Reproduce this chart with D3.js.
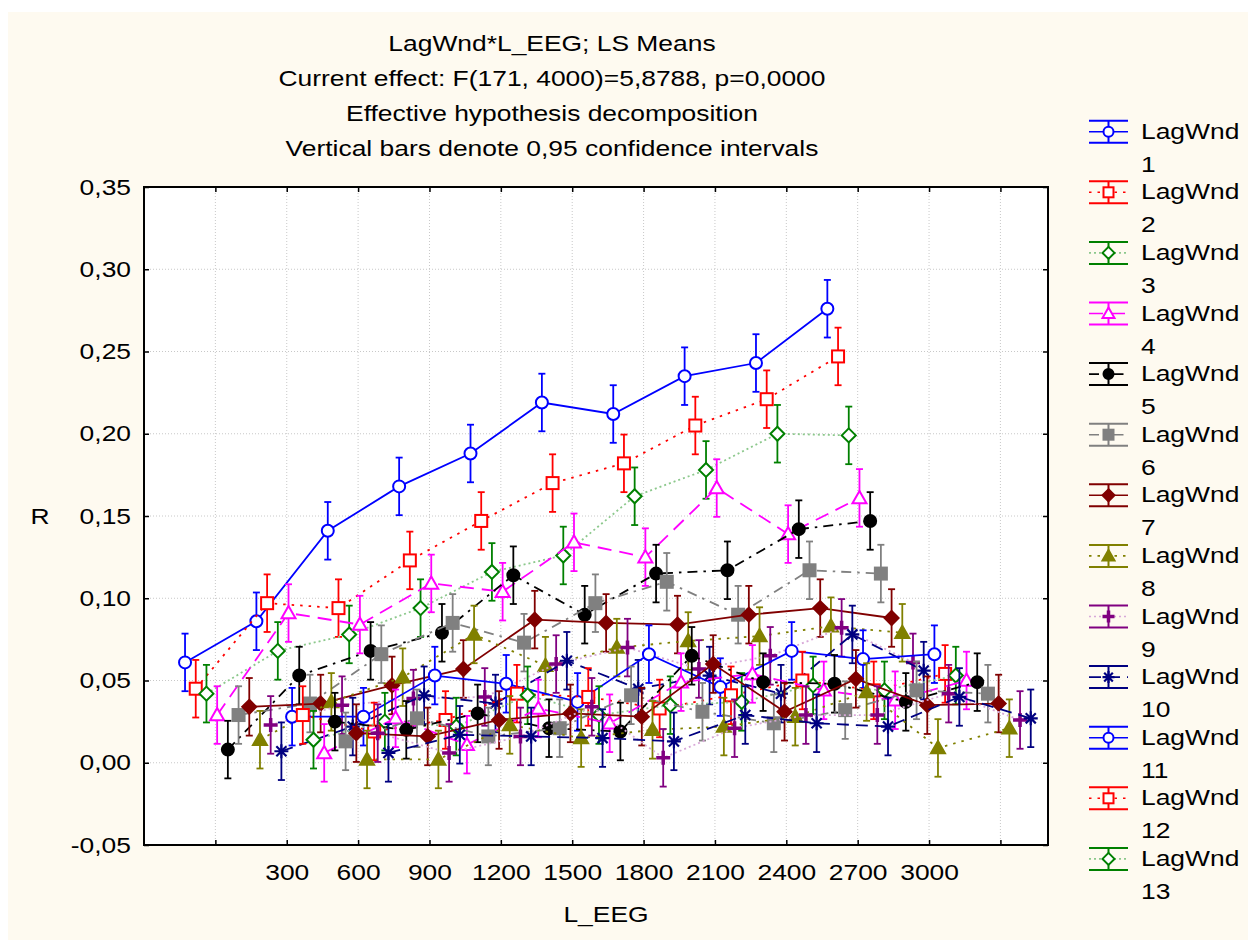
<!DOCTYPE html>
<html>
<head>
<meta charset="utf-8">
<script src="https://cdn.jsdelivr.net/npm/d3@7"></script>
<style>
    body{margin:0;background:#fff;}
    text{font-family:"Liberation Sans",Arial,sans-serif;fill:#000;}
</style>
</head>
<body>
<div id="container"></div>
<script>
//L_EEG levels (categories on the x axis)
var lEEG = [300, 600, 900, 1200, 1500, 1800, 2100, 2400, 2700, 3000];
var xTicks = [0, 300, 600, 900, 1200, 1500, 1800, 2100, 2400, 2700, 3000, 3300];
var xTickLabels = ["", "300", "600", "900", "1200", "1500", "1800", "2100", "2400", "2700", "3000", ""];
var yTicks = [-0.05, 0, 0.05, 0.10, 0.15, 0.20, 0.25, 0.30, 0.35];
var yTickLabels = ["-0,05", "0,00", "0,05", "0,10", "0,15", "0,20", "0,25", "0,30", "0,35"];

var seriesNames = ["LagWnd 1", "LagWnd 2", "LagWnd 3", "LagWnd 4", "LagWnd 5", "LagWnd 6", "LagWnd 7",
    "LagWnd 8", "LagWnd 9", "LagWnd 10", "LagWnd 11", "LagWnd 12", "LagWnd 13", "LagWnd 14",
    "LagWnd 15", "LagWnd 16", "LagWnd 17", "LagWnd 18", "LagWnd 19", "LagWnd 20"];

//LS means of R, one array per LagWnd
var r1  = [0.061, 0.086, 0.141, 0.168, 0.188, 0.219, 0.212, 0.235, 0.243, 0.276];
var r2  = [0.045, 0.097, 0.094, 0.123, 0.147, 0.170, 0.182, 0.205, 0.221, 0.247];
var r3  = [0.042, 0.068, 0.078, 0.094, 0.116, 0.126, 0.162, 0.178, 0.200, 0.199];
var r4  = [0.029, 0.091, 0.084, 0.109, 0.104, 0.134, 0.125, 0.167, 0.139, 0.161];
var r5  = [0.008, 0.053, 0.068, 0.079, 0.114, 0.090, 0.115, 0.117, 0.142, 0.147];
var r6  = [0.029, 0.036, 0.066, 0.085, 0.073, 0.097, 0.110, 0.090, 0.117, 0.115];
var r7  = [0.034, 0.036, 0.047, 0.057, 0.087, 0.085, 0.084, 0.090, 0.094, 0.088];
var r8  = [0.014, 0.037, 0.052, 0.078, 0.059, 0.070, 0.074, 0.077, 0.083, 0.079];
var r9  = [0.023, 0.035, 0.039, 0.040, 0.060, 0.070, 0.057, 0.065, 0.082, 0.061];
var r10 = [0.007, 0.022, 0.041, 0.036, 0.062, 0.045, 0.053, 0.042, 0.078, 0.056];
var r11 = [0.028, 0.028, 0.053, 0.048, 0.037, 0.066, 0.046, 0.068, 0.063, 0.066];
var r12 = [0.029, 0.019, 0.026, 0.042, 0.040, 0.033, 0.041, 0.050, 0.044, 0.054];
var r13 = [0.014, 0.025, 0.022, 0.041, 0.029, 0.035, 0.037, 0.047, 0.044, 0.053];
var r14 = [0.006, 0.027, 0.011, 0.033, 0.024, 0.049, 0.054, 0.044, 0.038, 0.050];
var r15 = [0.025, 0.020, 0.030, 0.021, 0.019, 0.065, 0.049, 0.048, 0.037, 0.049];
var r16 = [0.013, 0.027, 0.016, 0.021, 0.041, 0.031, 0.024, 0.032, 0.044, 0.042];
var r17 = [0.018, 0.016, 0.026, 0.030, 0.028, 0.060, 0.031, 0.051, 0.035, 0.036];
var r18 = [0.002, 0.002, 0.023, 0.015, 0.020, 0.022, 0.028, 0.043, 0.009, 0.021];
var r19 = [0.018, 0.006, 0.016, 0.034, 0.003, 0.021, 0.029, 0.029, 0.042, 0.026];
var r20 = [0.006, 0.017, 0.016, 0.015, 0.013, 0.029, 0.024, 0.022, 0.040, 0.027];
var seriesValues = [r1, r2, r3, r4, r5, r6, r7, r8, r9, r10, r11, r12, r13, r14, r15, r16, r17, r18, r19, r20];
//half width of the 0,95 confidence interval
var ciHalf = 0.0175;

var titleLines = ["LagWnd*L_EEG; LS Means",
    "Current effect: F(171, 4000)=5,8788, p=0,0000",
    "Effective hypothesis decomposition",
    "Vertical bars denote 0,95 confidence intervals"];

(function(){
    window.onload = drawChart();

    function drawChart(){
        var width = 1248, height = 940;
        //horizontal stretch of the lettering
        var sx = 1.2, fs = 22;
        //styles repeat every 10 series
        var styles = [
            {color:"#0000ff", line:"#0000ff", dash:null, marker:"circle", fill:false},
            {color:"#ff0000", line:"#ff0000", dash:"2.5,6", marker:"square", fill:false},
            {color:"#008000", line:"#8cc88c", dash:"2,3", marker:"diamond", fill:false},
            {color:"#ff00ff", line:"#ff00ff", dash:"14,8", marker:"triangle", fill:false},
            {color:"#000000", line:"#000000", dash:"10,6,2.5,6", marker:"circle", fill:true},
            {color:"#808080", line:"#808080", dash:"10,6,2.5,6", marker:"square", fill:true},
            {color:"#800000", line:"#800000", dash:null, marker:"diamond", fill:true},
            {color:"#808000", line:"#808000", dash:"2.5,6", marker:"triangle", fill:true},
            {color:"#800080", line:"#d8a8d8", dash:"2,3", marker:"plus", fill:true},
            {color:"#000080", line:"#000080", dash:"12,7", marker:"asterisk", fill:true}
        ];

        var svg = d3.select("#container")
            .append("svg")
            .attr("width", width)
            .attr("height", height);

        svg.append("rect").attr("width", width).attr("height", height).attr("fill", "#ffffff");
        svg.append("rect").attr("x", 8).attr("y", 12)
            .attr("width", width - 8).attr("height", height - 12)
            .attr("fill", "#fefaf0");

        var x = d3.scaleLinear().domain([-300, 3500]).range([144, 1048]);
        var y = d3.scaleLinear().domain([-0.05, 0.35]).range([845, 187]);
        var jitter = 45; //L_EEG units between neighbouring LagWnd series

        function stretch(sel){
            sel.each(function(){
                var w = this.getComputedTextLength();
                d3.select(this).attr("textLength", w * sx).attr("lengthAdjust", "spacingAndGlyphs");
            });
        }

        //plot area
        svg.append("rect")
            .attr("x", x.range()[0]).attr("y", y.range()[1])
            .attr("width", x.range()[1] - x.range()[0])
            .attr("height", y.range()[0] - y.range()[1])
            .attr("fill", "#ffffff");

        //dotted grid
        var grid = svg.append("g").attr("stroke", "#c8c8c8").attr("stroke-dasharray", "1,2");
        grid.selectAll(".vg").data(xTicks).enter().append("line")
            .attr("x1", d => x(d)).attr("x2", d => x(d))
            .attr("y1", y.range()[1]).attr("y2", y.range()[0]);
        grid.selectAll(".hg").data(yTicks.slice(1, -1)).enter().append("line")
            .attr("x1", x.range()[0]).attr("x2", x.range()[1])
            .attr("y1", d => y(d)).attr("y2", d => y(d));

        //axes
        var xAxis = svg.append("g")
            .attr("transform", "translate(0," + y.range()[0] + ")")
            .call(d3.axisBottom(x).tickValues(xTicks).tickSize(-5).tickPadding(19)
                .tickFormat((d, i) => xTickLabels[i]));
        var xTop = svg.append("g")
            .attr("transform", "translate(0," + y.range()[1] + ")")
            .call(d3.axisTop(x).tickValues(xTicks).tickSize(-5).tickFormat(""));
        var yAxis = svg.append("g")
            .attr("transform", "translate(" + x.range()[0] + ",0)")
            .call(d3.axisLeft(y).tickValues(yTicks).tickSize(-5).tickPadding(13)
                .tickFormat((d, i) => yTickLabels[i]));
        var yRight = svg.append("g")
            .attr("transform", "translate(" + x.range()[1] + ",0)")
            .call(d3.axisRight(y).tickValues(yTicks).tickSize(-5).tickFormat(""));
        [xAxis, xTop, yAxis, yRight].forEach(function(a){
            a.select(".domain").remove();
            a.selectAll("line").attr("stroke", "#000").attr("stroke-width", 1.5);
            a.selectAll("text").attr("font-size", fs).attr("font-family", "Liberation Sans, Arial, sans-serif");
        });
        stretch(xAxis.selectAll("text"));
        stretch(yAxis.selectAll("text"));

        //markers
        function drawMarker(g, type, cx, cy, st, s){
            var fill = st.fill ? st.color : "#ffffff";
            if (type == "circle"){
                g.append("circle").attr("cx", cx).attr("cy", cy).attr("r", s)
                    .attr("fill", fill).attr("stroke", st.color).attr("stroke-width", 2);
            } else if (type == "square"){
                g.append("rect").attr("x", cx - s).attr("y", cy - s)
                    .attr("width", 2 * s).attr("height", 2 * s)
                    .attr("fill", fill).attr("stroke", st.color).attr("stroke-width", 2);
            } else if (type == "diamond"){
                var d = s + 1;
                g.append("path")
                    .attr("d", "M" + cx + "," + (cy - d) + "L" + (cx + d) + "," + cy + "L" + cx + "," + (cy + d) + "L" + (cx - d) + "," + cy + "Z")
                    .attr("fill", fill).attr("stroke", st.color).attr("stroke-width", 2);
            } else if (type == "triangle"){
                var h = s + 1;
                g.append("path")
                    .attr("d", "M" + cx + "," + (cy - h) + "L" + (cx + h) + "," + (cy + h * 0.75) + "L" + (cx - h) + "," + (cy + h * 0.75) + "Z")
                    .attr("fill", fill).attr("stroke", st.color).attr("stroke-width", 2);
            } else if (type == "plus"){
                var p = s + 1;
                g.append("path")
                    .attr("d", "M" + (cx - p) + "," + cy + "H" + (cx + p) + "M" + cx + "," + (cy - p) + "V" + (cy + p))
                    .attr("stroke", st.color).attr("stroke-width", 3.5).attr("fill", "none");
            } else if (type == "asterisk"){
                var a = s + 1, q = a * 0.72;
                g.append("path")
                    .attr("d", "M" + (cx - a) + "," + cy + "H" + (cx + a) + "M" + cx + "," + (cy - a) + "V" + (cy + a) +
                        "M" + (cx - q) + "," + (cy - q) + "L" + (cx + q) + "," + (cy + q) +
                        "M" + (cx - q) + "," + (cy + q) + "L" + (cx + q) + "," + (cy - q))
                    .attr("stroke", st.color).attr("stroke-width", 2.2).attr("fill", "none");
            }
        }

        //series: line, confidence bars, markers
        var plot = svg.append("g");
        var line = d3.line().x(d => d.px).y(d => d.py);
        seriesValues.forEach(function(vals, k){
            var st = styles[k % styles.length];
            var pts = vals.map(function(v, i){
                return {
                    px: x(lEEG[i] + (k - (seriesValues.length - 1) / 2) * jitter),
                    py: y(v), hi: y(v + ciHalf), lo: y(v - ciHalf)
                };
            });
            var g = plot.append("g").attr("class", "series");
            g.append("path").datum(pts).attr("d", line)
                .attr("fill", "none").attr("stroke", st.line).attr("stroke-width", 1.8)
                .attr("stroke-dasharray", st.dash);
            var bars = g.append("g").attr("stroke", st.color).attr("stroke-width", 1.8);
            pts.forEach(function(p){
                bars.append("line").attr("x1", p.px).attr("x2", p.px).attr("y1", p.hi).attr("y2", p.lo);
                bars.append("line").attr("x1", p.px - 3.5).attr("x2", p.px + 3.5).attr("y1", p.hi).attr("y2", p.hi);
                bars.append("line").attr("x1", p.px - 3.5).attr("x2", p.px + 3.5).attr("y1", p.lo).attr("y2", p.lo);
            });
            pts.forEach(function(p){ drawMarker(g, st.marker, p.px, p.py, st, 6); });
        });

        //frame
        svg.append("rect")
            .attr("x", x.range()[0]).attr("y", y.range()[1])
            .attr("width", x.range()[1] - x.range()[0])
            .attr("height", y.range()[0] - y.range()[1])
            .attr("fill", "none").attr("stroke", "#000").attr("stroke-width", 2);

        //titles
        svg.selectAll(".title").data(titleLines).enter().append("text")
            .attr("class", "title")
            .attr("x", 552).attr("y", (d, i) => 51 + i * 35)
            .attr("text-anchor", "middle").attr("font-size", fs)
            .text(d => d)
            .call(stretch);

        svg.append("text").attr("x", 606).attr("y", 922)
            .attr("text-anchor", "middle").attr("font-size", fs)
            .text("L_EEG").call(stretch);
        svg.append("text").attr("x", 40).attr("y", 524)
            .attr("text-anchor", "middle").attr("font-size", fs)
            .text("R").call(stretch);

        //legend (only the first 13 entries fit)
        var legend = svg.append("g");
        seriesNames.slice(0, 13).forEach(function(name, k){
            var st = styles[k % styles.length];
            var c = 131.7 + k * 60.6, x0 = 1089, x1 = 1128, xm = (x0 + x1) / 2;
            var lg = legend.append("g");
            lg.append("line").attr("x1", x0).attr("x2", x1).attr("y1", c).attr("y2", c)
                .attr("stroke", st.line).attr("stroke-width", 1.6).attr("stroke-dasharray", st.dash);
            var b = lg.append("g").attr("stroke", st.color).attr("stroke-width", 2);
            b.append("line").attr("x1", x0).attr("x2", x1).attr("y1", c - 11).attr("y2", c - 11);
            b.append("line").attr("x1", x0).attr("x2", x1).attr("y1", c + 11).attr("y2", c + 11);
            b.append("line").attr("x1", xm).attr("x2", xm).attr("y1", c - 11).attr("y2", c + 11);
            drawMarker(lg, st.marker, xm, c, st, 5);
            var parts = name.split(" ");
            lg.append("text").attr("x", 1141).attr("y", c + 7).attr("font-size", fs).text(parts[0]).call(stretch);
            lg.append("text").attr("x", 1141).attr("y", c + 40).attr("font-size", fs).text(parts[1]).call(stretch);
        });
    };
})();
</script>
</body>
</html>
